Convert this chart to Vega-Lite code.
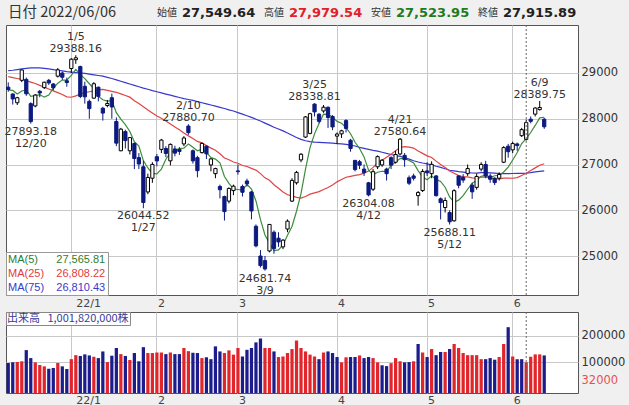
{
 "$schema": "https://vega.github.io/schema/vega-lite/v6.json",
 "padding": {"left": 4, "top": 0, "right": 0, "bottom": 0},
 "background": "#f0f0f0",
 "spacing": 0,
 "config": {"font": "DejaVu Sans", "view": {"stroke": "#555555", "fill": "#ffffff"}},
 "resolve": {"scale": {"color": "independent", "x": "independent", "y": "independent"}, "legend": {"color": "independent"}, "axis": {"x": "independent", "y": "independent"}},
 "datasets": {
  "hdr": [{"k":"始値","v":"27,549.64"},{"k":"高値","v":"27,979.54"},{"k":"安値","v":"27,523.95"},{"k":"終値","v":"27,915.89"}],
  "cur": [{"d":"2022-06-06"}],
  "ann": [
   {"d":"2022-01-05","p":29388.16,"t":"1/5\n29388.16","pos":"a"},
   {"d":"2021-12-20","p":27893.18,"t":"27893.18\n12/20","pos":"b"},
   {"d":"2022-02-10","p":27880.70,"t":"2/10\n27880.70","pos":"a"},
   {"d":"2022-01-27","p":26044.52,"t":"26044.52\n1/27","pos":"b"},
   {"d":"2022-03-09","p":24681.74,"t":"24681.74\n3/9","pos":"b"},
   {"d":"2022-03-25","p":28338.81,"t":"3/25\n28338.81","pos":"a"},
   {"d":"2022-04-21","p":27580.64,"t":"4/21\n27580.64","pos":"a"},
   {"d":"2022-04-12","p":26304.08,"t":"26304.08\n4/12","pos":"b"},
   {"d":"2022-05-12","p":25688.11,"t":"25688.11\n5/12","pos":"b"},
   {"d":"2022-06-09","p":28389.75,"t":"6/9\n28389.75","pos":"a"}
  ],
  "px": [
{"d":"2021-12-13","o":28690,"h":28795,"l":28590,"c":28640.49,"v":97500,"vu":0,"m5":28624,"m25":28920,"m75":29050},
{"d":"2021-12-14","o":28540,"h":28560,"l":28310,"c":28432.64,"v":100000,"vu":0,"m5":28619,"m25":28900,"m75":29060},
{"d":"2021-12-15","o":28350,"h":28480,"l":28300,"c":28459.72,"v":101000,"vu":1,"m5":28539,"m25":28880,"m75":29075},
{"d":"2021-12-16","o":28840,"h":29075,"l":28800,"c":29066.32,"v":104000,"vu":1,"m5":28607,"m25":28860,"m75":29090},
{"d":"2021-12-17","o":28860,"h":28900,"l":28500,"c":28545.68,"v":146000,"vu":0,"m5":28629,"m25":28830,"m75":29100},
{"d":"2021-12-20","o":28330,"h":28360,"l":27893.18,"c":27937.81,"v":116000,"vu":0,"m5":28488,"m25":28800,"m75":29110},
{"d":"2021-12-21","o":28280,"h":28540,"l":28250,"c":28517.59,"v":100000,"vu":1,"m5":28505,"m25":28770,"m75":29112},
{"d":"2021-12-22","o":28600,"h":28630,"l":28470,"c":28562.21,"v":90000,"vu":1,"m5":28526,"m25":28730,"m75":29110},
{"d":"2021-12-23","o":28680,"h":28810,"l":28650,"c":28798.37,"v":85000,"vu":1,"m5":28472,"m25":28690,"m75":29100},
{"d":"2021-12-24","o":28840,"h":28870,"l":28740,"c":28782.59,"v":76000,"vu":0,"m5":28520,"m25":28650,"m75":29090},
{"d":"2021-12-27","o":28760,"h":28780,"l":28620,"c":28676.46,"v":79000,"vu":0,"m5":28667,"m25":28610,"m75":29075},
{"d":"2021-12-28","o":28930,"h":29110,"l":28900,"c":29069.16,"v":97500,"vu":1,"m5":28778,"m25":28570,"m75":29060},
{"d":"2021-12-29","o":29000,"h":29030,"l":28850,"c":28906.88,"v":85000,"vu":0,"m5":28847,"m25":28530,"m75":29045},
{"d":"2021-12-30","o":28830,"h":28900,"l":28700,"c":28791.71,"v":75000,"vu":0,"m5":28845,"m25":28480,"m75":29030},
{"d":"2022-01-04","o":29098,"h":29323,"l":29000,"c":29301.79,"v":112000,"vu":1,"m5":28949,"m25":28470,"m75":29020},
{"d":"2022-01-05","o":29290,"h":29388.16,"l":29200,"c":29332.16,"v":127000,"vu":1,"m5":29080,"m25":28500,"m75":29010},
{"d":"2022-01-06","o":29140,"h":29160,"l":28450,"c":28487.87,"v":124000,"vu":0,"m5":28964,"m25":28540,"m75":29000},
{"d":"2022-01-07","o":28710,"h":28810,"l":28330,"c":28478.56,"v":130000,"vu":0,"m5":28878,"m25":28570,"m75":28990},
{"d":"2022-01-11","o":28380,"h":28420,"l":28000,"c":28222.48,"v":126000,"vu":0,"m5":28765,"m25":28590,"m75":28975},
{"d":"2022-01-12","o":28450,"h":28800,"l":28440,"c":28765.66,"v":121000,"vu":1,"m5":28657,"m25":28610,"m75":28960},
{"d":"2022-01-13","o":28690,"h":28700,"l":28380,"c":28489.13,"v":116000,"vu":0,"m5":28489,"m25":28630,"m75":28945},
{"d":"2022-01-14","o":28230,"h":28260,"l":27960,"c":28124.28,"v":141000,"vu":0,"m5":28416,"m25":28640,"m75":28930},
{"d":"2022-01-17","o":28290,"h":28410,"l":28250,"c":28333.52,"v":101000,"vu":1,"m5":28387,"m25":28620,"m75":28905},
{"d":"2022-01-18","o":28460,"h":28550,"l":28000,"c":28257.25,"v":125000,"vu":0,"m5":28394,"m25":28600,"m75":28880},
{"d":"2022-01-19","o":27940,"h":28030,"l":27400,"c":27467.23,"v":154000,"vu":0,"m5":28134,"m25":28578,"m75":28850},
{"d":"2022-01-20","o":27300,"h":27800,"l":27290,"c":27772.93,"v":131000,"vu":1,"m5":27991,"m25":28543,"m75":28820},
{"d":"2022-01-21","o":27720,"h":27760,"l":27350,"c":27522.26,"v":124000,"vu":0,"m5":27871,"m25":28507,"m75":28790},
{"d":"2022-01-24","o":27300,"h":27600,"l":27220,"c":27588.37,"v":109000,"vu":1,"m5":27722,"m25":28472,"m75":28760},
{"d":"2022-01-25","o":27460,"h":27480,"l":26900,"c":27131.34,"v":135000,"vu":0,"m5":27496,"m25":28395,"m75":28730},
{"d":"2022-01-26","o":27150,"h":27250,"l":26900,"c":27011.33,"v":104000,"vu":0,"m5":27405,"m25":28333,"m75":28700},
{"d":"2022-01-27","o":26950,"h":27080,"l":26044.52,"c":26170.30,"v":157000,"vu":0,"m5":27085,"m25":28263,"m75":28670},
{"d":"2022-01-28","o":26400,"h":26800,"l":26350,"c":26717.34,"v":135000,"vu":1,"m5":26924,"m25":28190,"m75":28645},
{"d":"2022-01-31","o":26700,"h":27050,"l":26600,"c":27001.98,"v":135000,"vu":1,"m5":26806,"m25":28128,"m75":28615},
{"d":"2022-02-01","o":27170,"h":27230,"l":26960,"c":27078.48,"v":137000,"vu":1,"m5":26796,"m25":28059,"m75":28590},
{"d":"2022-02-02","o":27330,"h":27560,"l":27250,"c":27533.60,"v":137000,"vu":1,"m5":26900,"m25":28009,"m75":28565},
{"d":"2022-02-03","o":27350,"h":27400,"l":27160,"c":27241.31,"v":131000,"vu":0,"m5":27115,"m25":27952,"m75":28540},
{"d":"2022-02-04","o":27080,"h":27460,"l":26980,"c":27439.99,"v":137000,"vu":1,"m5":27259,"m25":27887,"m75":28515},
{"d":"2022-02-07","o":27340,"h":27410,"l":27180,"c":27248.87,"v":131000,"vu":0,"m5":27308,"m25":27820,"m75":28490},
{"d":"2022-02-08","o":27330,"h":27380,"l":27210,"c":27284.52,"v":131000,"vu":0,"m5":27350,"m25":27760,"m75":28465},
{"d":"2022-02-09","o":27450,"h":27620,"l":27400,"c":27579.87,"v":154000,"vu":1,"m5":27359,"m25":27691,"m75":28440},
{"d":"2022-02-10","o":27840,"h":27880.70,"l":27650,"c":27696.08,"v":142000,"vu":1,"m5":27450,"m25":27626,"m75":28420},
{"d":"2022-02-14","o":27300,"h":27330,"l":27020,"c":27079.59,"v":136000,"vu":0,"m5":27378,"m25":27570,"m75":28400},
{"d":"2022-02-15","o":27150,"h":27190,"l":26720,"c":26865.19,"v":135000,"vu":0,"m5":27301,"m25":27505,"m75":28375},
{"d":"2022-02-16","o":27260,"h":27480,"l":27240,"c":27460.40,"v":116000,"vu":1,"m5":27336,"m25":27474,"m75":28350},
{"d":"2022-02-17","o":27400,"h":27420,"l":27120,"c":27232.87,"v":119000,"vu":0,"m5":27267,"m25":27413,"m75":28325},
{"d":"2022-02-18","o":26990,"h":27140,"l":26850,"c":27122.07,"v":112000,"vu":0,"m5":27152,"m25":27358,"m75":28300},
{"d":"2022-02-21","o":26800,"h":26930,"l":26700,"c":26910.87,"v":160000,"vu":0,"m5":27118,"m25":27310,"m75":28275},
{"d":"2022-02-22","o":26520,"h":26560,"l":26260,"c":26449.61,"v":141000,"vu":0,"m5":27035,"m25":27235,"m75":28250},
{"d":"2022-02-24","o":26300,"h":26320,"l":25775,"c":25970.82,"v":135000,"vu":1,"m5":26737,"m25":27143,"m75":28225},
{"d":"2022-02-25","o":26200,"h":26500,"l":26150,"c":26476.50,"v":145000,"vu":1,"m5":26586,"m25":27104,"m75":28195},
{"d":"2022-02-28","o":26430,"h":26560,"l":26330,"c":26526.82,"v":129000,"vu":1,"m5":26467,"m25":27054,"m75":28170},
{"d":"2022-03-01","o":26860,"h":27000,"l":26780,"c":26844.72,"v":154000,"vu":1,"m5":26454,"m25":27027,"m75":28135},
{"d":"2022-03-02","o":26520,"h":26560,"l":26300,"c":26393.03,"v":122000,"vu":0,"m5":26442,"m25":26979,"m75":28100},
{"d":"2022-03-03","o":26640,"h":26690,"l":26520,"c":26577.27,"v":147000,"vu":0,"m5":26564,"m25":26957,"m75":28065},
{"d":"2022-03-04","o":26400,"h":26420,"l":25800,"c":25985.47,"v":154000,"vu":0,"m5":26465,"m25":26916,"m75":28030},
{"d":"2022-03-07","o":25650,"h":25690,"l":25190,"c":25221.41,"v":175000,"vu":0,"m5":26204,"m25":26878,"m75":27990},
{"d":"2022-03-08","o":25000,"h":25130,"l":24750,"c":24790.95,"v":190000,"vu":0,"m5":25794,"m25":26801,"m75":27950},
{"d":"2022-03-09","o":24900,"h":25000,"l":24681.74,"c":24717.53,"v":154000,"vu":1,"m5":25459,"m25":26709,"m75":27905},
{"d":"2022-03-10","o":25110,"h":25700,"l":25080,"c":25690.40,"v":154000,"vu":1,"m5":25281,"m25":26654,"m75":27860},
{"d":"2022-03-11","o":25520,"h":25560,"l":25050,"c":25162.78,"v":141000,"vu":0,"m5":25117,"m25":26559,"m75":27815},
{"d":"2022-03-14","o":25390,"h":25520,"l":25200,"c":25307.85,"v":120000,"vu":1,"m5":25134,"m25":26481,"m75":27775},
{"d":"2022-03-15","o":25200,"h":25370,"l":25150,"c":25346.48,"v":122000,"vu":1,"m5":25245,"m25":26398,"m75":27735},
{"d":"2022-03-16","o":25590,"h":25800,"l":25520,"c":25762.01,"v":135000,"vu":1,"m5":25454,"m25":26338,"m75":27690},
{"d":"2022-03-17","o":26200,"h":26700,"l":26180,"c":26652.89,"v":150000,"vu":1,"m5":25646,"m25":26313,"m75":27640},
{"d":"2022-03-18","o":26600,"h":26860,"l":26560,"c":26827.43,"v":182000,"vu":1,"m5":25979,"m25":26283,"m75":27590},
{"d":"2022-03-22","o":27100,"h":27250,"l":27050,"c":27224.11,"v":154000,"vu":1,"m5":26363,"m25":26264,"m75":27550},
{"d":"2022-03-23","o":27600,"h":28060,"l":27580,"c":28040.16,"v":141000,"vu":1,"m5":26901,"m25":26302,"m75":27520},
{"d":"2022-03-24","o":27680,"h":28130,"l":27660,"c":28110.39,"v":129000,"vu":1,"m5":27371,"m25":26352,"m75":27500},
{"d":"2022-03-25","o":28320,"h":28338.81,"l":28050,"c":28149.84,"v":122000,"vu":1,"m5":27670,"m25":26380,"m75":27490},
{"d":"2022-03-28","o":28100,"h":28120,"l":27900,"c":27943.89,"v":112000,"vu":0,"m5":27894,"m25":26408,"m75":27483},
{"d":"2022-03-29","o":28170,"h":28300,"l":28130,"c":28252.42,"v":137000,"vu":1,"m5":28099,"m25":26453,"m75":27478},
{"d":"2022-03-30","o":28250,"h":28270,"l":27800,"c":28027.25,"v":141000,"vu":0,"m5":28097,"m25":26498,"m75":27472},
{"d":"2022-03-31","o":28050,"h":28080,"l":27750,"c":27821.43,"v":135000,"vu":0,"m5":28039,"m25":26553,"m75":27466},
{"d":"2022-04-01","o":27620,"h":27700,"l":27450,"c":27665.98,"v":120000,"vu":0,"m5":27942,"m25":26621,"m75":27458},
{"d":"2022-04-04","o":27670,"h":27760,"l":27580,"c":27736.47,"v":100000,"vu":1,"m5":27901,"m25":26671,"m75":27451},
{"d":"2022-04-05","o":27960,"h":27990,"l":27700,"c":27787.98,"v":119000,"vu":1,"m5":27808,"m25":26722,"m75":27440},
{"d":"2022-04-06","o":27530,"h":27560,"l":27280,"c":27350.30,"v":120000,"vu":0,"m5":27672,"m25":26742,"m75":27425},
{"d":"2022-04-07","o":27090,"h":27100,"l":26850,"c":26888.57,"v":120000,"vu":0,"m5":27486,"m25":26762,"m75":27404},
{"d":"2022-04-08","o":27060,"h":27100,"l":26900,"c":26985.80,"v":126000,"vu":1,"m5":27350,"m25":26778,"m75":27376},
{"d":"2022-04-11","o":26900,"h":27000,"l":26750,"c":26821.52,"v":116000,"vu":0,"m5":27167,"m25":26811,"m75":27353},
{"d":"2022-04-12","o":26600,"h":26620,"l":26304.08,"c":26334.98,"v":120000,"vu":0,"m5":26876,"m25":26856,"m75":27332},
{"d":"2022-04-13","o":26460,"h":26900,"l":26420,"c":26843.49,"v":116000,"vu":1,"m5":26775,"m25":26938,"m75":27310},
{"d":"2022-04-14","o":26950,"h":27200,"l":26900,"c":27172.00,"v":100000,"vu":1,"m5":26832,"m25":27036,"m75":27291},
{"d":"2022-04-15","o":26990,"h":27120,"l":26950,"c":27093.19,"v":89000,"vu":0,"m5":26853,"m25":27092,"m75":27268},
{"d":"2022-04-18","o":26900,"h":26930,"l":26650,"c":26799.71,"v":86000,"vu":0,"m5":26849,"m25":27158,"m75":27242},
{"d":"2022-04-19","o":27150,"h":27180,"l":26900,"c":26985.09,"v":97000,"vu":1,"m5":26979,"m25":27225,"m75":27219},
{"d":"2022-04-20","o":27050,"h":27300,"l":27020,"c":27217.85,"v":116000,"vu":1,"m5":27054,"m25":27300,"m75":27195},
{"d":"2022-04-21","o":27230,"h":27580.64,"l":27200,"c":27553.06,"v":104000,"vu":1,"m5":27130,"m25":27371,"m75":27177},
{"d":"2022-04-22","o":27200,"h":27250,"l":26950,"c":27105.26,"v":100000,"vu":0,"m5":27132,"m25":27390,"m75":27154},
{"d":"2022-04-25","o":26710,"h":26760,"l":26550,"c":26590.78,"v":101000,"vu":0,"m5":27090,"m25":27380,"m75":27118},
{"d":"2022-04-26","o":26750,"h":26800,"l":26650,"c":26700.11,"v":104000,"vu":1,"m5":27033,"m25":27359,"m75":27083},
{"d":"2022-04-27","o":26320,"h":26420,"l":26100,"c":26386.63,"v":169000,"vu":0,"m5":26867,"m25":27293,"m75":27055},
{"d":"2022-04-28","o":26430,"h":26900,"l":26400,"c":26847.90,"v":137000,"vu":1,"m5":26726,"m25":27243,"m75":27033},
{"d":"2022-05-02","o":26860,"h":27050,"l":26750,"c":26818.53,"v":120000,"vu":0,"m5":26669,"m25":27189,"m75":27015},
{"d":"2022-05-06","o":26800,"h":27070,"l":26700,"c":27003.56,"v":150000,"vu":1,"m5":26751,"m25":27152,"m75":26991},
{"d":"2022-05-09","o":26750,"h":26770,"l":26300,"c":26319.34,"v":127000,"vu":0,"m5":26675,"m25":27074,"m75":26962},
{"d":"2022-05-10","o":26250,"h":26280,"l":25800,"c":26167.10,"v":139000,"vu":0,"m5":26631,"m25":27000,"m75":26936},
{"d":"2022-05-11","o":26060,"h":26280,"l":25950,"c":26213.64,"v":139000,"vu":1,"m5":26504,"m25":26936,"m75":26908},
{"d":"2022-05-12","o":25950,"h":26000,"l":25688.11,"c":25748.72,"v":150000,"vu":0,"m5":26290,"m25":26859,"m75":26874},
{"d":"2022-05-13","o":25770,"h":26460,"l":25750,"c":26427.65,"v":169000,"vu":1,"m5":26175,"m25":26807,"m75":26860},
{"d":"2022-05-16","o":26750,"h":26760,"l":26480,"c":26547.05,"v":154000,"vu":1,"m5":26221,"m25":26757,"m75":26844},
{"d":"2022-05-17","o":26720,"h":26790,"l":26600,"c":26659.75,"v":135000,"vu":1,"m5":26319,"m25":26729,"m75":26833},
{"d":"2022-05-18","o":26800,"h":27000,"l":26750,"c":26911.20,"v":127000,"vu":1,"m5":26459,"m25":26730,"m75":26824},
{"d":"2022-05-19","o":26550,"h":26600,"l":26250,"c":26402.84,"v":127000,"vu":1,"m5":26590,"m25":26707,"m75":26814},
{"d":"2022-05-20","o":26500,"h":26800,"l":26450,"c":26739.03,"v":127000,"vu":1,"m5":26652,"m25":26704,"m75":26810},
{"d":"2022-05-23","o":26900,"h":27050,"l":26850,"c":27001.52,"v":112000,"vu":1,"m5":26743,"m25":26730,"m75":26821},
{"d":"2022-05-24","o":27000,"h":27080,"l":26700,"c":26748.14,"v":112000,"vu":0,"m5":26761,"m25":26726,"m75":26822},
{"d":"2022-05-25","o":26750,"h":26800,"l":26600,"c":26677.80,"v":116000,"vu":0,"m5":26714,"m25":26707,"m75":26817},
{"d":"2022-05-26","o":26700,"h":26720,"l":26550,"c":26604.84,"v":110000,"vu":0,"m5":26754,"m25":26687,"m75":26811},
{"d":"2022-05-27","o":26700,"h":26830,"l":26650,"c":26781.68,"v":120000,"vu":1,"m5":26763,"m25":26686,"m75":26801},
{"d":"2022-05-30","o":27050,"h":27400,"l":27030,"c":27369.43,"v":169000,"vu":1,"m5":26836,"m25":26702,"m75":26803},
{"d":"2022-05-31","o":27400,"h":27450,"l":27150,"c":27279.80,"v":232000,"vu":0,"m5":26943,"m25":26704,"m75":26801},
{"d":"2022-06-01","o":27320,"h":27500,"l":27250,"c":27457.89,"v":122000,"vu":1,"m5":27099,"m25":26700,"m75":26803},
{"d":"2022-06-02","o":27450,"h":27480,"l":27300,"c":27413.88,"v":112000,"vu":0,"m5":27261,"m25":26713,"m75":26805},
{"d":"2022-06-03","o":27630,"h":27800,"l":27600,"c":27761.57,"v":112000,"vu":0,"m5":27457,"m25":26760,"m75":26808},
{"d":"2022-06-06","o":27549.64,"h":27979.54,"l":27523.95,"c":27915.89,"v":100182,"vu":1,"m5":27566,"m25":26808,"m75":26810},
{"d":"2022-06-07","o":27990,"h":28050,"l":27900,"c":27943.95,"v":121000,"vu":1,"m5":27699,"m25":26871,"m75":26822},
{"d":"2022-06-08","o":28100,"h":28250,"l":28050,"c":28234.29,"v":130000,"vu":1,"m5":27854,"m25":26926,"m75":26840},
{"d":"2022-06-09","o":28200,"h":28389.75,"l":28180,"c":28246.53,"v":130000,"vu":1,"m5":28020,"m25":26983,"m75":26851},
{"d":"2022-06-10","o":27990,"h":28020,"l":27780,"c":27824.29,"v":126000,"vu":0,"m5":28033,"m25":27016,"m75":26859}
  ]
 },
 "vconcat": [
  {
   "width": 625, "height": 24,
   "view": {"stroke": null, "fill": null},
   "title": {"text": "日付 2022/06/06", "anchor": "start", "orient": "top", "offset": -20, "dx": 2, "fontSize": 14.5, "fontWeight": "normal", "color": "#333333", "font": "Noto Sans CJK JP"},
   "data": {"name": "hdr"},
   "layer": [
    {"mark": {"type": "text", "align": "left", "baseline": "middle", "dy": 1, "font": "Noto Sans CJK JP", "fontSize": 10, "color": "#333333"},
     "encoding": {"x": {"field": "k", "type": "nominal", "scale": {"type": "point", "domain": ["始値","高値","安値","終値"], "range": [151, 472], "padding": 0}, "axis": null}, "text": {"field": "k"}}},
    {"mark": {"type": "text", "align": "left", "baseline": "middle", "dx": 25, "dy": 1, "font": "DejaVu Sans", "fontSize": 13, "fontWeight": "bold"},
     "encoding": {"x": {"field": "k", "type": "nominal", "scale": {"type": "point", "domain": ["始値","高値","安値","終値"], "range": [151, 472], "padding": 0}, "axis": null}, "text": {"field": "v"},
      "color": {"field": "k", "type": "nominal", "scale": {"domain": ["始値","高値","安値","終値"], "range": ["#222222","#e0202a","#1e7b1e","#222222"]}, "legend": null}}}
   ]
  },
  {
   "width": 572, "height": 270,
   "data": {"name": "px"},
   "encoding": {
    "x": {"field": "d", "type": "nominal", "title": null,
     "scale": {"type": "band", "paddingInner": 0, "paddingOuter": 0, "domain": ["2021-12-13","2021-12-14","2021-12-15","2021-12-16","2021-12-17","2021-12-20","2021-12-21","2021-12-22","2021-12-23","2021-12-24","2021-12-27","2021-12-28","2021-12-29","2021-12-30","2022-01-04","2022-01-05","2022-01-06","2022-01-07","2022-01-11","2022-01-12","2022-01-13","2022-01-14","2022-01-17","2022-01-18","2022-01-19","2022-01-20","2022-01-21","2022-01-24","2022-01-25","2022-01-26","2022-01-27","2022-01-28","2022-01-31","2022-02-01","2022-02-02","2022-02-03","2022-02-04","2022-02-07","2022-02-08","2022-02-09","2022-02-10","2022-02-14","2022-02-15","2022-02-16","2022-02-17","2022-02-18","2022-02-21","2022-02-22","2022-02-24","2022-02-25","2022-02-28","2022-03-01","2022-03-02","2022-03-03","2022-03-04","2022-03-07","2022-03-08","2022-03-09","2022-03-10","2022-03-11","2022-03-14","2022-03-15","2022-03-16","2022-03-17","2022-03-18","2022-03-22","2022-03-23","2022-03-24","2022-03-25","2022-03-28","2022-03-29","2022-03-30","2022-03-31","2022-04-01","2022-04-04","2022-04-05","2022-04-06","2022-04-07","2022-04-08","2022-04-11","2022-04-12","2022-04-13","2022-04-14","2022-04-15","2022-04-18","2022-04-19","2022-04-20","2022-04-21","2022-04-22","2022-04-25","2022-04-26","2022-04-27","2022-04-28","2022-05-02","2022-05-06","2022-05-09","2022-05-10","2022-05-11","2022-05-12","2022-05-13","2022-05-16","2022-05-17","2022-05-18","2022-05-19","2022-05-20","2022-05-23","2022-05-24","2022-05-25","2022-05-26","2022-05-27","2022-05-30","2022-05-31","2022-06-01","2022-06-02","2022-06-03","2022-06-06","2022-06-07","2022-06-08","2022-06-09","2022-06-10","2022-06-13","2022-06-14","2022-06-15","2022-06-16","2022-06-17","2022-06-20","2022-06-21"]},
     "axis": {"values": ["2022-01-04","2022-02-01","2022-03-01","2022-04-01","2022-05-02","2022-06-01"], "labelExpr": "datum.value == '2022-01-04' ? '22/1' : '' + toNumber(substring(datum.value, 5, 7))", "grid": true, "gridColor": "#c8c8c8", "bandPosition": 0.5, "ticks": false, "domain": false, "labelAlign": "left", "labelOffset": {"condition": {"test": "datum.value == '2022-01-04'", "value": 5}, "value": 1}, "labelPadding": 2, "labelFontSize": 11, "labelColor": "#444444", "labelAngle": 0, "labelOverlap": false, "labelBound": false, "minExtent": 15, "maxExtent": 15}}
   },
   "layer": [
    {"mark": {"type": "line", "strokeWidth": 1.2},
     "encoding": {"y": {"field": "m75", "type": "quantitative", "title": null, "scale": {"domain": [24148, 30049], "zero": false, "nice": false},
       "axis": {"orient": "right", "values": [25000, 26000, 27000, 28000, 29000], "format": "d", "grid": true, "gridColor": "#c8c8c8", "ticks": false, "domain": false, "labelPadding": 3, "labelFontSize": 11.5, "labelColor": "#333333"}},
      "color": {"datum": "MA(75)", "scale": {"domain": ["MA(5)", "MA(25)", "MA(75)"], "range": ["#3c8c3c", "#e04444", "#3838cc"]},
       "legend": {"orient": "bottom-left", "offset": 0, "title": null, "padding": 2, "rowPadding": 2, "symbolSize": 0.01, "symbolOpacity": 0, "symbolStrokeWidth": 0, "labelOffset": -11, "labelFont": "Liberation Sans", "labelFontSize": 11, "fillColor": "#ffffff", "strokeColor": "#999999",
        "labelExpr": "datum.label == 'MA(5)' ? 'MA(5)\u2007\u00a0\u00a0\u00a0\u00a027,565.81' : datum.label == 'MA(25)' ? 'MA(25)\u00a0\u00a0\u00a0\u00a026,808.22' : 'MA(75)\u00a0\u00a0\u00a0\u00a026,810.43'",
        "encode": {"labels": {"update": {"fill": {"signal": "datum.value == 'MA(5)' ? '#2f7d2f' : datum.value == 'MA(25)' ? '#e03c3c' : '#3a3ac8'"}}}}}}}},
    {"mark": {"type": "line", "strokeWidth": 1.2},
     "encoding": {"y": {"field": "m25", "type": "quantitative", "title": null, "scale": {"domain": [24148, 30049], "zero": false, "nice": false}},
      "color": {"datum": "MA(25)"}}},
    {"mark": {"type": "line", "strokeWidth": 1.2},
     "encoding": {"y": {"field": "m5", "type": "quantitative", "title": null, "scale": {"domain": [24148, 30049], "zero": false, "nice": false}},
      "color": {"datum": "MA(5)"}}},
    {"mark": {"type": "rule", "strokeWidth": 1},
     "encoding": {"y": {"field": "l", "type": "quantitative", "title": null, "scale": {"domain": [24148, 30049], "zero": false, "nice": false}}, "y2": {"field": "h"},
      "color": {"condition": {"test": "datum.c >= datum.o", "value": "#000000"}, "value": "#0c1a80"}}},
    {"mark": {"type": "bar", "width": {"band": 0.72}, "strokeWidth": 1},
     "encoding": {"y": {"field": "o", "type": "quantitative", "title": null, "scale": {"domain": [24148, 30049], "zero": false, "nice": false}}, "y2": {"field": "c"},
      "fill": {"condition": {"test": "datum.c >= datum.o", "value": "#ffffff"}, "value": "#0c1a80"},
      "stroke": {"condition": {"test": "datum.c >= datum.o", "value": "#000000"}, "value": "#0c1a80"}}},
    {"data": {"name": "ann"}, "transform": [{"filter": "datum.pos == 'a'"}],
     "mark": {"type": "text", "baseline": "bottom", "dy": -13, "lineBreak": "\n", "lineHeight": 12, "fontSize": 11, "color": "#333333"},
     "encoding": {"y": {"field": "p", "type": "quantitative", "title": null, "scale": {"domain": [24148, 30049], "zero": false, "nice": false}}, "text": {"field": "t"}}},
    {"data": {"name": "ann"}, "transform": [{"filter": "datum.pos == 'b'"}],
     "mark": {"type": "text", "baseline": "top", "dy": 2, "lineBreak": "\n", "lineHeight": 12, "fontSize": 11, "color": "#333333"},
     "encoding": {"y": {"field": "p", "type": "quantitative", "title": null, "scale": {"domain": [24148, 30049], "zero": false, "nice": false}}, "text": {"field": "t"}}},
    {"data": {"name": "cur"}, "mark": {"type": "rule", "strokeDash": [2, 2], "strokeWidth": 1, "color": "#666666"}, "encoding": {}}
   ]
  },
  {
   "width": 572, "height": 81,
   "data": {"name": "px"},
   "encoding": {
    "x": {"field": "d", "type": "nominal", "title": null,
     "scale": {"type": "band", "paddingInner": 0, "paddingOuter": 0, "domain": ["2021-12-13","2021-12-14","2021-12-15","2021-12-16","2021-12-17","2021-12-20","2021-12-21","2021-12-22","2021-12-23","2021-12-24","2021-12-27","2021-12-28","2021-12-29","2021-12-30","2022-01-04","2022-01-05","2022-01-06","2022-01-07","2022-01-11","2022-01-12","2022-01-13","2022-01-14","2022-01-17","2022-01-18","2022-01-19","2022-01-20","2022-01-21","2022-01-24","2022-01-25","2022-01-26","2022-01-27","2022-01-28","2022-01-31","2022-02-01","2022-02-02","2022-02-03","2022-02-04","2022-02-07","2022-02-08","2022-02-09","2022-02-10","2022-02-14","2022-02-15","2022-02-16","2022-02-17","2022-02-18","2022-02-21","2022-02-22","2022-02-24","2022-02-25","2022-02-28","2022-03-01","2022-03-02","2022-03-03","2022-03-04","2022-03-07","2022-03-08","2022-03-09","2022-03-10","2022-03-11","2022-03-14","2022-03-15","2022-03-16","2022-03-17","2022-03-18","2022-03-22","2022-03-23","2022-03-24","2022-03-25","2022-03-28","2022-03-29","2022-03-30","2022-03-31","2022-04-01","2022-04-04","2022-04-05","2022-04-06","2022-04-07","2022-04-08","2022-04-11","2022-04-12","2022-04-13","2022-04-14","2022-04-15","2022-04-18","2022-04-19","2022-04-20","2022-04-21","2022-04-22","2022-04-25","2022-04-26","2022-04-27","2022-04-28","2022-05-02","2022-05-06","2022-05-09","2022-05-10","2022-05-11","2022-05-12","2022-05-13","2022-05-16","2022-05-17","2022-05-18","2022-05-19","2022-05-20","2022-05-23","2022-05-24","2022-05-25","2022-05-26","2022-05-27","2022-05-30","2022-05-31","2022-06-01","2022-06-02","2022-06-03","2022-06-06","2022-06-07","2022-06-08","2022-06-09","2022-06-10","2022-06-13","2022-06-14","2022-06-15","2022-06-16","2022-06-17","2022-06-20","2022-06-21"]},
     "axis": {"values": ["2022-01-04","2022-02-01","2022-03-01","2022-04-01","2022-05-02","2022-06-01"], "labelExpr": "datum.value == '2022-01-04' ? '22/1' : '' + toNumber(substring(datum.value, 5, 7))", "grid": true, "gridColor": "#c8c8c8", "bandPosition": 0.5, "ticks": false, "domain": false, "labelAlign": "left", "labelOffset": {"condition": {"test": "datum.value == '2022-01-04'", "value": 5}, "value": 1}, "labelPadding": 1, "labelFontSize": 11, "labelColor": "#444444", "labelAngle": 0, "labelOverlap": false, "labelBound": false, "minExtent": 15, "maxExtent": 15}}
   },
   "layer": [
    {"mark": {"type": "bar", "width": {"band": 0.72}},
     "encoding": {"y": {"field": "v", "type": "quantitative", "title": null, "scale": {"domain": [-15000, 289000], "zero": false, "nice": false},
       "axis": {"orient": "right", "values": [32000, 100000, 200000], "format": "d", "grid": true, "gridColor": "#c8c8c8", "gridOpacity": {"condition": {"test": "datum.value == 32000", "value": 0}, "value": 1}, "labelColor": {"condition": {"test": "datum.value == 32000", "value": "#e85050"}, "value": "#333333"}, "ticks": false, "domain": false, "labelPadding": 3, "labelFontSize": 11.5}},
      "y2": {"datum": -15000},
      "fill": {"condition": {"test": "datum.vu == 1", "value": "#e0262b"}, "value": "#1c1c8c"}}},
    {"data": {"name": "cur"}, "mark": {"type": "rule", "strokeDash": [2, 2], "strokeWidth": 1},
     "encoding": {"color": {"datum": "出来高", "scale": {"range": ["#666666"]},
      "legend": {"orient": "top-left", "offset": 0, "title": null, "padding": 1, "symbolSize": 0.01, "symbolOpacity": 0, "symbolStrokeWidth": 0, "labelOffset": -11, "labelFont": "Noto Sans CJK JP", "labelFontSize": 11, "labelColor": "#3a3a9a", "fillColor": "#ffffff", "strokeColor": "#888888",
       "labelExpr": "'出来高\u00a0\u00a0\u00a01,001,820,000株'"}}}}
   ]
  }
 ]
}
